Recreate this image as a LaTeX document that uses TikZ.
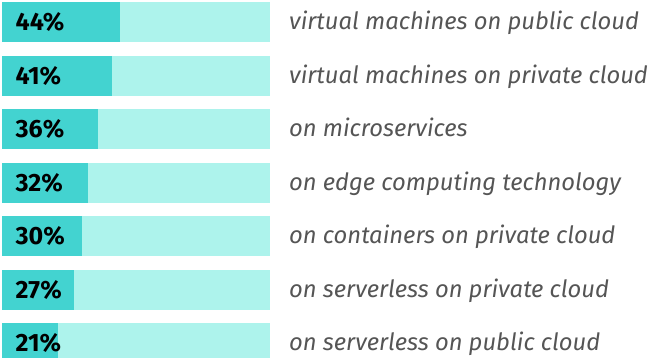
\documentclass[tikz,border=0pt]{standalone}
\usepackage{fontspec}
\setmainfont{Fira Sans}
\usepackage{tikz}
\definecolor{barlight}{HTML}{ADF3EC}
\definecolor{bardark}{HTML}{43D3D0}
\definecolor{labelgray}{HTML}{555555}

\begin{document}
\begin{tikzpicture}[x=1pt,y=1pt]
	\useasboundingbox (0,0) rectangle (649,-357);
	\clip (0,0) rectangle (649,-357);
	\foreach \i/\p/\t in {0/44/virtual machines on public cloud, 1/41/virtual machines on private cloud, 2/36/on microservices, 3/32/on edge computing technology, 4/30/on containers on private cloud, 5/27/on serverless on private cloud, 6/21/on serverless on public cloud} {
		\pgfmathsetmacro{\rowtop}{-2-53.5*\i}
		\fill[barlight] (2,\rowtop) rectangle (270,\rowtop-40);
		\fill[bardark] (2,\rowtop) rectangle ({2+2.68*\p},\rowtop-40);
		\node[anchor=base west, inner sep=0, font=\bfseries\fontsize{25}{30}\selectfont] (pct\i) at (15.5,\rowtop-28.5) {\p\%};
		\node[anchor=base west, inner sep=0, text=labelgray, font=\itshape\fontsize{23.8}{28}\selectfont] (lbl\i) at (289,\rowtop-27.5) {\t};
	}
\end{tikzpicture}
\end{document}
